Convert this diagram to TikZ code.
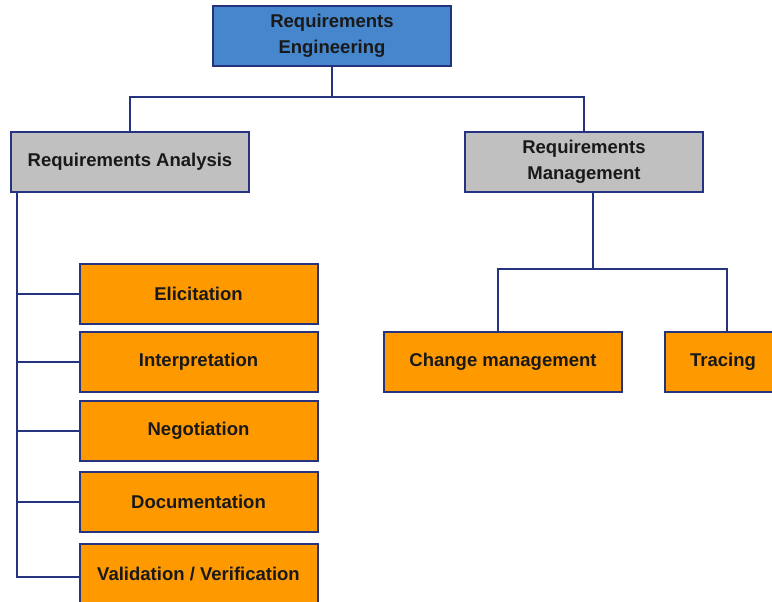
\documentclass[tikz,border=0pt]{standalone}
\usepackage{fontspec}
\setmainfont{Liberation Sans}
\definecolor{navy}{RGB}{38,52,128}
\definecolor{topblue}{RGB}{70,134,204}
\definecolor{midgrey}{RGB}{192,192,192}
\definecolor{taskorange}{RGB}{255,153,0}
\tikzset{
    box/.style={draw=navy, line width=2pt, minimum width=238pt, minimum height=60pt,
        align=center, inner sep=0pt, text=black!90,
        font=\bfseries\fontsize{18.5}{26}\selectfont},
    topbox/.style={box, fill=topblue},
    headbox/.style={box, fill=midgrey},
    taskbox/.style={box, fill=taskorange},
    conn/.style={draw=navy, line width=2pt}
}
\begin{document}
\begin{tikzpicture}[x=1pt, y=-1pt]
    \useasboundingbox (0,0) rectangle (772,602);
    \clip (0,0) rectangle (772,602);

    % Top level
    \node[topbox] (eng) at (332,36) {Requirements\\Engineering};

    % Second level
    \node[headbox] (ana) at (130,162) {Requirements Analysis};
    \node[headbox] (mgmt) at (584,162) {Requirements\\Management};

    % Analysis tasks
    \node[taskbox] (eli) at (198.5,294) {Elicitation};
    \node[taskbox] (int) at (198.5,362) {Interpretation};
    \node[taskbox] (neg) at (198.5,431) {Negotiation};
    \node[taskbox] (doc) at (198.5,502) {Documentation};
    \node[taskbox] (val) at (198.5,574) {Validation / Verification};

    % Management tasks
    \node[taskbox] (chg) at (503,362) {Change management};
    \node[taskbox, minimum width=116pt] (trc) at (723,362) {Tracing};

    % Connectors
    \coordinate (j1) at (332,97);
    \draw[conn] (eng.south) -- (j1);
    \draw[conn] (j1) -| (ana.north);
    \draw[conn] (j1) -| (mgmt.north);

    \coordinate (sp) at (17,577);
    \draw[conn] (sp |- ana.south) -- (sp) -- (val.west |- sp);
    \foreach \t in {eli,int,neg,doc}
        \draw[conn] (sp |- \t.west) -- (\t.west);

    \coordinate (j2) at (593,269);
    \draw[conn] (j2 |- mgmt.south) -- (j2);
    \draw[conn] (j2) -| ([xshift=-5pt]chg.north);
    \draw[conn] (j2) -| ([xshift=4pt]trc.north);
\end{tikzpicture}
\end{document}
